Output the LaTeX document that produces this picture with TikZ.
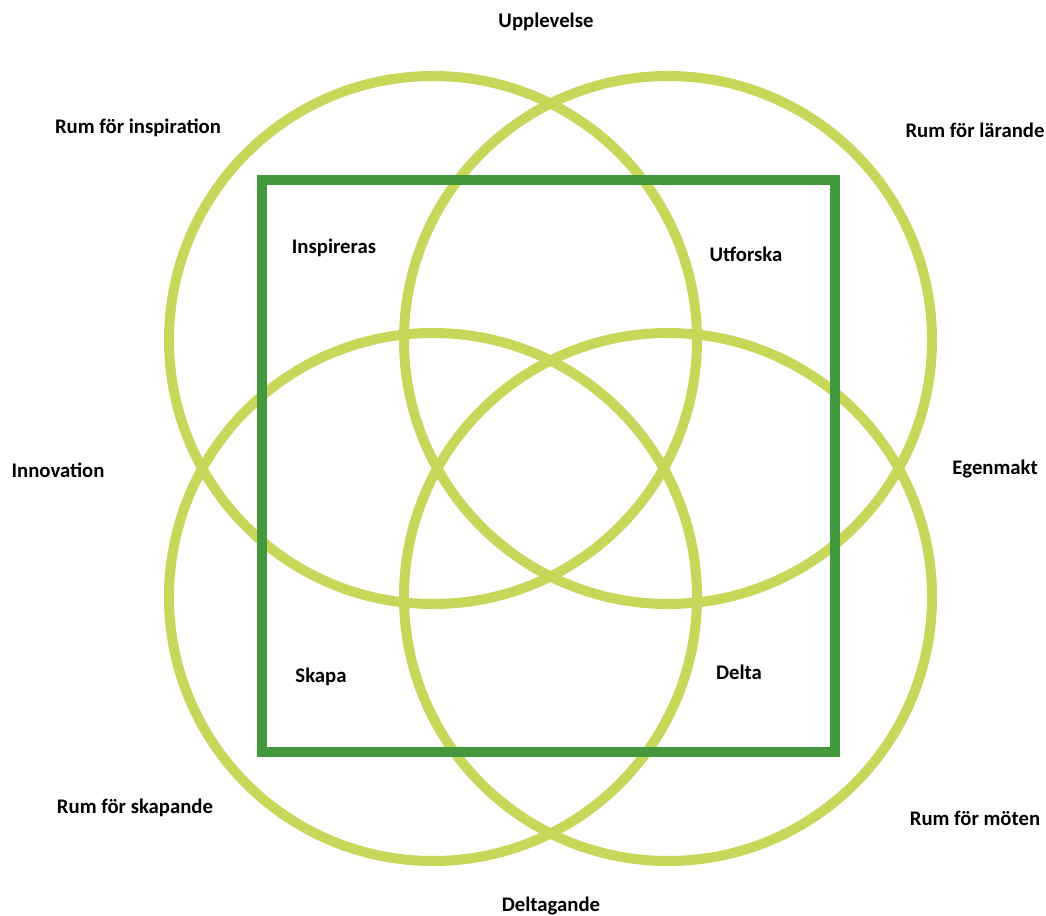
\documentclass[tikz,border=0pt]{standalone}
\usepackage{fontspec}
\setmainfont{Carlito}
\usetikzlibrary{math}
\definecolor{lgreen}{RGB}{200,215,90}
\definecolor{dgreen}{RGB}{67,152,61}

\begin{document}
\begin{tikzpicture}[x=0.02cm, y=-0.02cm,
  ring/.style={draw=lgreen, line width=5.7pt},
  frame/.style={draw=dgreen, line width=5.4pt},
  lbl/.style={font=\fontsize{11.8}{14}\selectfont\bfseries, inner sep=0pt}]
\tikzmath{
\R=264;
\xa=433;
\xb=668;
\ya=340;
\yb=597;
}
\useasboundingbox (0,0) rectangle (1046,916);

%circles
\draw[ring] (\xa,\ya) circle [radius=\R];
\draw[ring] (\xb,\ya) circle [radius=\R];
\draw[ring] (\xa,\yb) circle [radius=\R];
\draw[ring] (\xb,\yb) circle [radius=\R];

%square
\draw[frame] (262,180) rectangle (835,752);

%outer labels
\node[lbl] (upplevelse) at (546,22) {Upplevelse};
\node[lbl] (inspiration) at (138,128) {Rum för inspiration};
\node[lbl] (larande) at (975,130) {Rum för lärande};
\node[lbl] (innovation) at (58,470) {Innovation};
\node[lbl] (egenmakt) at (995,469) {Egenmakt};
\node[lbl] (skapande) at (135,808) {Rum för skapande};
\node[lbl] (moten) at (975,818) {Rum för möten};
\node[lbl] (deltagande) at (551,906) {Deltagande};

%inner labels
\node[lbl] (inspireras) at (334,248) {Inspireras};
\node[lbl] (utforska) at (746,254) {Utforska};
\node[lbl] (skapa) at (321,677) {Skapa};
\node[lbl] (delta) at (739,672) {Delta};

\end{tikzpicture}
\end{document}
